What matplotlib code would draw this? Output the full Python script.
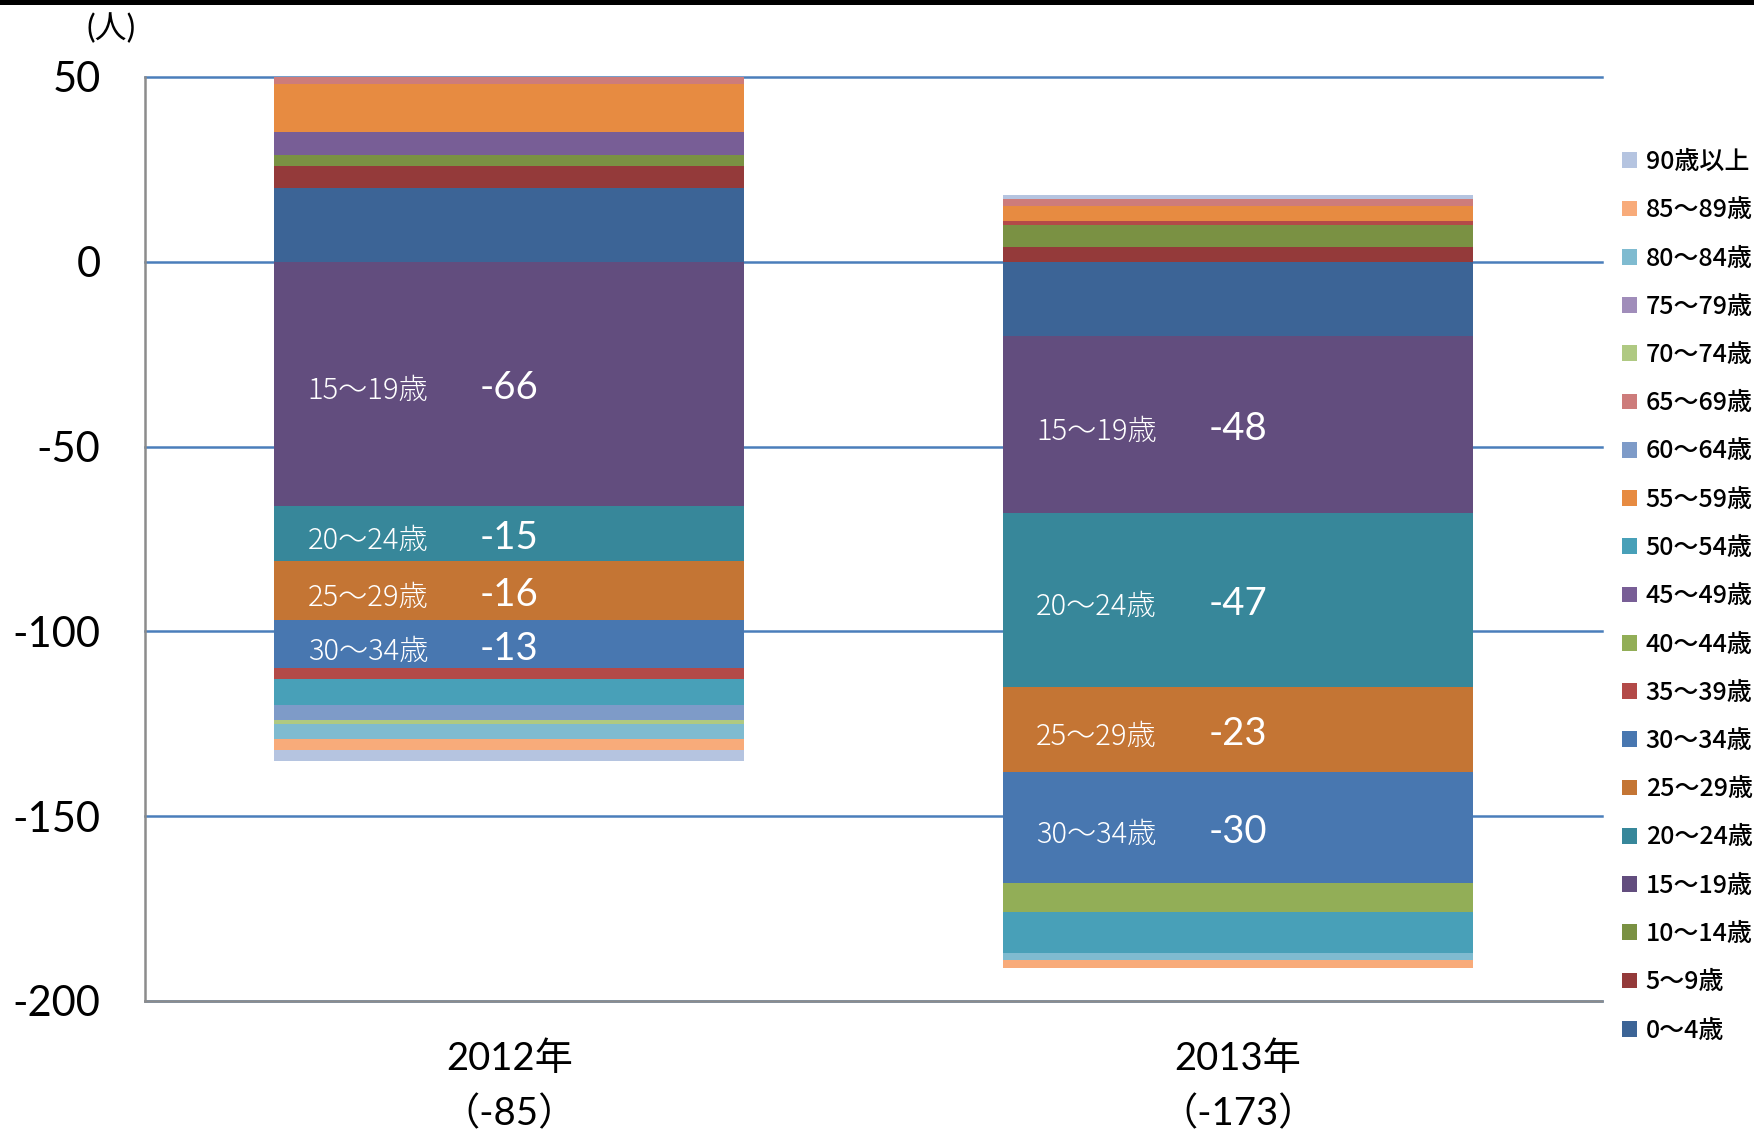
import matplotlib
matplotlib.use("Agg")
import matplotlib.pyplot as plt
from matplotlib.patches import Rectangle
import numpy as np

# ---------------- data ----------------
years = ["2012年\n（-85）", "2013年\n（-173）"]
ages = ["0～4歳", "5～9歳", "10～14歳", "15～19歳", "20～24歳", "25～29歳",
        "30～34歳", "35～39歳", "40～44歳", "45～49歳", "50～54歳", "55～59歳",
        "60～64歳", "65～69歳", "70～74歳", "75～79歳", "80～84歳", "85～89歳",
        "90歳以上"]
values_2012 = [20, 6, 3, -66, -15, -16, -13, -3, 0, 6, -7, 13, -4, 2, -1, 0, -4, -3, -3]
values_2013 = [-20, 4, 6, -48, -47, -23, -30, 1, -8, 0, -11, 4, 0, 2, 0, 0, -2, -2, 1]
colors = ["#3c6496", "#943a3a", "#7a9143", "#624d7e", "#37879a", "#c47534",
          "#4877b0", "#b34a48", "#92ae57", "#785e96", "#48a0b8", "#e78b41",
          "#7e9bc8", "#cd7c7b", "#afc982", "#a08dba", "#7fbbd0", "#f8ab7a",
          "#b5c4e0"]
labeled_ages = ["15～19歳", "20～24歳", "25～29歳", "30～34歳"]
yticks = [50, 0, -50, -100, -150, -200]

JP = ["Noto Sans CJK JP", "DejaVu Sans"]
NUM = ["Lato", "Noto Sans CJK JP", "DejaVu Sans"]

# ---------------- figure ----------------
fig = plt.figure(figsize=(17.54, 11.30), dpi=100)
fig.patches.append(Rectangle((0, 1 - 5 / 1130), 1, 5 / 1130, transform=fig.transFigure,
                             facecolor="black", edgecolor="none", zorder=10))
ax = fig.add_axes([145 / 1754, 1 - 1001 / 1130, (1602 - 145) / 1754, (1001 - 77) / 1130])

data = np.array([values_2012, values_2013])  # shape (2, 19)
x = np.arange(len(years))
width = 0.645
pos_bottom = np.zeros(len(years))
neg_bottom = np.zeros(len(years))
handles = []
for i, age in enumerate(ages):
    v = data[:, i].astype(float)
    bottoms = np.where(v >= 0, pos_bottom, neg_bottom)
    bc = ax.bar(x, v, width, bottom=bottoms, color=colors[i], label=age,
                edgecolor="none", zorder=3)
    handles.append(bc)
    if age in labeled_ages:
        for j in range(len(years)):
            mid = bottoms[j] + v[j] / 2
            ax.text(x[j] - 0.194, mid - 1.9, age, ha="center", va="center",
                    color="white", fontsize=21, family=JP, fontweight="light", zorder=5)
            ax.text(x[j], mid - 1.2, f"{int(v[j])}", ha="center", va="center",
                    color="white", fontsize=27.5, family=NUM, zorder=5)
    pos_bottom = pos_bottom + np.where(v >= 0, v, 0)
    neg_bottom = neg_bottom + np.where(v < 0, v, 0)

ax.set_xlim(-0.5, 1.5)
ax.set_ylim(-200, 50)
ax.set_yticks(yticks)
ax.set_yticklabels([str(t) for t in yticks], family=NUM, fontsize=30)
ax.set_xticks(x)
ax.set_xticklabels(years, family=NUM, fontsize=27.5, linespacing=1.62)
ax.tick_params(axis="y", length=0, pad=32)
ax.tick_params(axis="x", length=0, pad=29)

ax.yaxis.grid(True, color="#4a7ebb", linewidth=1.8, zorder=0)
ax.set_axisbelow(True)
for gl in ax.get_ygridlines():
    gl.set_clip_on(False)
for s in ["top", "right"]:
    ax.spines[s].set_visible(False)
for s in ["left", "bottom"]:
    ax.spines[s].set_color("#8c8c8c")
    ax.spines[s].set_linewidth(1.8)
    ax.spines[s].set_zorder(4)

fig.text(111 / 1754, 1 - 29 / 1130, "(人)", ha="center", va="center",
         family=NUM, fontsize=23)

leg = fig.legend(handles[::-1], ages[::-1], loc="upper left",
                 bbox_to_anchor=(1622 / 1754, 1 - 149 / 1130), frameon=False,
                 prop={"family": JP, "size": 18, "weight": "medium"},
                 handlelength=0.6, handleheight=0.6, handletextpad=0.35,
                 labelspacing=0.89, borderaxespad=0, borderpad=0)

fig.savefig("out.png", dpi=100)
